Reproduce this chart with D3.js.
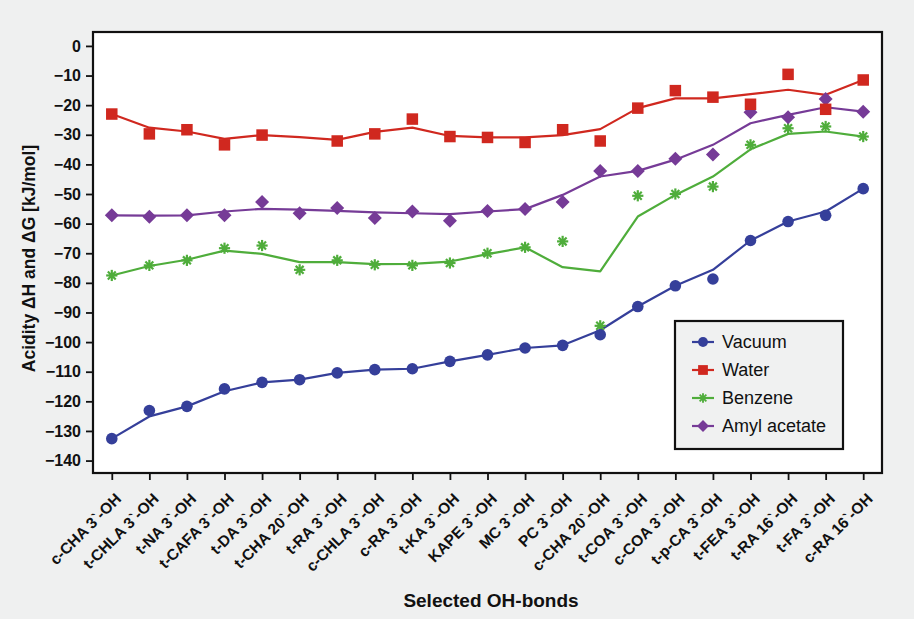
<!DOCTYPE html>
<html>
<head>
<meta charset="utf-8">
<script src="https://cdn.jsdelivr.net/npm/d3@7"></script>
<style>
  html, body { margin: 0; padding: 0; background: #eff0f0; }
  svg { display: block; font-family: "Liberation Sans", Arial, Helvetica, sans-serif; }
</style>
</head>
<body>
<svg id="chart" width="914" height="619"></svg>
<script>
// OH-bond sites along the x axis
const categories = ["c-CHA 3`-OH", "t-CHLA 3`-OH", "t-NA 3`-OH", "t-CAFA 3`-OH", "t-DA 3`-OH",
  "t-CHA 20`-OH", "t-RA 3`-OH", "c-CHLA 3`-OH", "c-RA 3`-OH", "t-KA 3`-OH", "KAPE 3`-OH",
  "MC 3`-OH", "PC 3`-OH", "c-CHA 20`-OH", "t-COA 3`-OH", "c-COA 3`-OH", "t-p-CA 3`-OH",
  "t-FEA 3`-OH", "t-RA 16`-OH", "t-FA 3`-OH", "c-RA 16`-OH"];

// Solid lines (one quantity) per environment, kJ/mol
const vacuumLine  = [-132.6, -125.1, -121.7, -116.6, -113.6, -112.7, -110.4, -109.3, -109.0, -106.5, -104.3, -102.0, -101.1, -96.0, -88.0, -81.0, -75.6, -65.7, -59.3, -55.9, -48.2];
const waterLine   = [-23.0, -27.6, -28.9, -31.4, -30.1, -30.8, -31.7, -29.0, -27.6, -30.4, -30.9, -30.9, -30.1, -28.1, -21.0, -17.7, -17.7, -16.3, -14.8, -16.5, -11.5];
const benzeneLine = [-77.5, -74.3, -72.2, -69.1, -70.2, -73.0, -73.0, -73.7, -73.6, -72.8, -70.3, -68.0, -74.7, -76.1, -57.6, -50.3, -44.1, -34.9, -29.7, -28.9, -30.6];
const amylLine    = [-57.2, -57.3, -57.2, -55.9, -55.0, -55.3, -55.7, -56.2, -56.5, -56.8, -55.9, -55.1, -50.3, -44.1, -42.2, -38.4, -33.4, -26.1, -23.3, -20.7, -22.2];

// Markers (the other quantity) per environment, kJ/mol
const vacuumPts  = [-132.6, -123.1, -121.7, -115.8, -113.6, -112.7, -110.4, -109.3, -109.0, -106.5, -104.3, -102.0, -101.1, -97.5, -88.0, -81.0, -78.7, -65.7, -59.3, -57.2, -48.2];
const waterPts   = [-23.0, -29.7, -28.3, -33.4, -30.1, null, -32.1, -29.7, -24.7, -30.6, -30.9, -32.6, -28.3, -32.1, -21.0, -15.1, -17.3, -19.7, -9.6, -21.4, -11.5];
const benzenePts = [-77.5, -74.1, -72.4, -68.3, -67.4, -75.6, -72.4, -73.9, -74.1, -73.3, -70.0, -68.0, -66.0, -94.5, -50.6, -50.0, -47.5, -33.4, -27.8, -27.2, -30.6];
const amylPts    = [-57.2, -57.7, -57.2, -57.2, -52.7, -56.5, -54.7, -58.1, -55.9, -59.0, -55.7, -55.1, -52.7, -42.2, -42.2, -38.1, -36.7, -22.4, -24.1, -17.9, -22.2];

const yTicks = [0, -10, -20, -30, -40, -50, -60, -70, -80, -90, -100, -110, -120, -130, -140];

const series = [
  { name: "Vacuum",       line: vacuumLine,  pts: vacuumPts,  color: "#353f9a", shape: "circle" },
  { name: "Water",        line: waterLine,   pts: waterPts,   color: "#d0281f", shape: "square" },
  { name: "Benzene",      line: benzeneLine, pts: benzenePts, color: "#4fad3b", shape: "star" },
  { name: "Amyl acetate", line: amylLine,    pts: amylPts,    color: "#763b97", shape: "diamond" }
];

const svg = d3.select("#chart");
const plot = { left: 93, right: 882, top: 32, bottom: 473 };

const x = d3.scalePoint().domain(categories).range([plot.left, plot.right]).padding(0.5);
const y = d3.scaleLinear().domain([-144.2, 4.7]).range([plot.bottom, plot.top]);

// plot area
svg.append("rect")
  .attr("x", plot.left).attr("y", plot.top)
  .attr("width", plot.right - plot.left).attr("height", plot.bottom - plot.top)
  .attr("fill", "#ffffff");

// axes
const yAxis = d3.axisLeft(y).tickValues(yTicks).tickSize(7).tickPadding(5).tickFormat(d3.format("d"));
const gy = svg.append("g").attr("transform", `translate(${plot.left},0)`).call(yAxis);
gy.select(".domain").remove();
gy.selectAll(".tick line").attr("stroke", "#111").attr("stroke-width", 1.8);
gy.selectAll(".tick text").attr("font-size", 16).attr("font-weight", "bold").attr("fill", "#111")
  .attr("font-family", "'Liberation Sans', Arial, sans-serif");

const xAxis = d3.axisBottom(x).tickSize(7).tickPadding(4);
const gx = svg.append("g").attr("transform", `translate(0,${plot.bottom})`).call(xAxis);
gx.select(".domain").remove();
gx.selectAll(".tick line").attr("stroke", "#111").attr("stroke-width", 1.8);
gx.selectAll(".tick text")
  .attr("font-size", 15.5).attr("font-weight", "bold").attr("fill", "#111")
  .attr("font-family", "'Liberation Sans', Arial, sans-serif")
  .attr("text-anchor", "end")
  .attr("dy", "0.35em")
  .attr("transform", "translate(6,23) rotate(-45)")
  .attr("x", 0).attr("y", 0);

// frame
svg.append("rect")
  .attr("x", plot.left).attr("y", plot.top)
  .attr("width", plot.right - plot.left).attr("height", plot.bottom - plot.top)
  .attr("fill", "none").attr("stroke", "#111").attr("stroke-width", 2.2);

// axis titles
svg.append("text")
  .attr("transform", `translate(35,${(plot.top + plot.bottom) / 2 + 6}) rotate(-90)`)
  .attr("text-anchor", "middle")
  .attr("font-size", 17.5).attr("font-weight", "bold").attr("fill", "#111")
  .text("Acidity ΔH and ΔG [kJ/mol]");

svg.append("text")
  .attr("x", 491).attr("y", 607)
  .attr("text-anchor", "middle")
  .attr("font-size", 19).attr("font-weight", "bold").attr("fill", "#111")
  .text("Selected OH-bonds");

// marker drawing
function drawMarker(g, shape, color, cx, cy, scale = 1) {
  if (shape === "circle") {
    g.append("circle").attr("cx", cx).attr("cy", cy).attr("r", 5.8 * scale).attr("fill", color);
  } else if (shape === "square") {
    const s = 11.5 * scale;
    g.append("rect").attr("x", cx - s / 2).attr("y", cy - s / 2).attr("width", s).attr("height", s).attr("fill", color);
  } else if (shape === "diamond") {
    const r = 7 * scale;
    g.append("path").attr("d", `M${cx},${cy - r}L${cx + r},${cy}L${cx},${cy + r}L${cx - r},${cy}Z`).attr("fill", color);
  } else if (shape === "star") {
    const r = 5.6 * scale;
    const sg = g.append("g").attr("stroke", color).attr("stroke-width", 2.2 * scale).attr("stroke-linecap", "butt");
    [0, 45, 90, 135].forEach(a => {
      const t = a * Math.PI / 180;
      sg.append("line")
        .attr("x1", cx - r * Math.cos(t)).attr("y1", cy - r * Math.sin(t))
        .attr("x2", cx + r * Math.cos(t)).attr("y2", cy + r * Math.sin(t));
    });
    g.append("circle").attr("cx", cx).attr("cy", cy).attr("r", 2.6 * scale).attr("fill", color);
  }
}

const lineGen = d3.line().x((d, i) => x(categories[i])).y(d => y(d));

// draw series in back-to-front order
const order = [2, 3, 1, 0];
order.forEach(k => {
  const s = series[k];
  svg.append("path").datum(s.line)
    .attr("d", lineGen)
    .attr("fill", "none").attr("stroke", s.color).attr("stroke-width", 2.2).attr("stroke-linejoin", "round");
});
order.forEach(k => {
  const s = series[k];
  const g = svg.append("g");
  s.pts.forEach((v, i) => {
    if (v === null) return;
    drawMarker(g, s.shape, s.color, x(categories[i]), y(v));
  });
});

// legend
const lg = svg.append("g");
lg.append("rect").attr("x", 675).attr("y", 321).attr("width", 168).attr("height", 128)
  .attr("fill", "#f0f1f1").attr("stroke", "#111").attr("stroke-width", 2.2);
series.forEach((s, i) => {
  const ly = 342 + i * 28;
  lg.append("line").attr("x1", 692).attr("x2", 714).attr("y1", ly).attr("y2", ly)
    .attr("stroke", s.color).attr("stroke-width", 2.2);
  drawMarker(lg, s.shape, s.color, 703, ly, 0.85);
  lg.append("text").attr("x", 722).attr("y", ly + 6.3)
    .attr("font-size", 18).attr("fill", "#111").text(s.name);
});
</script>
</body>
</html>
